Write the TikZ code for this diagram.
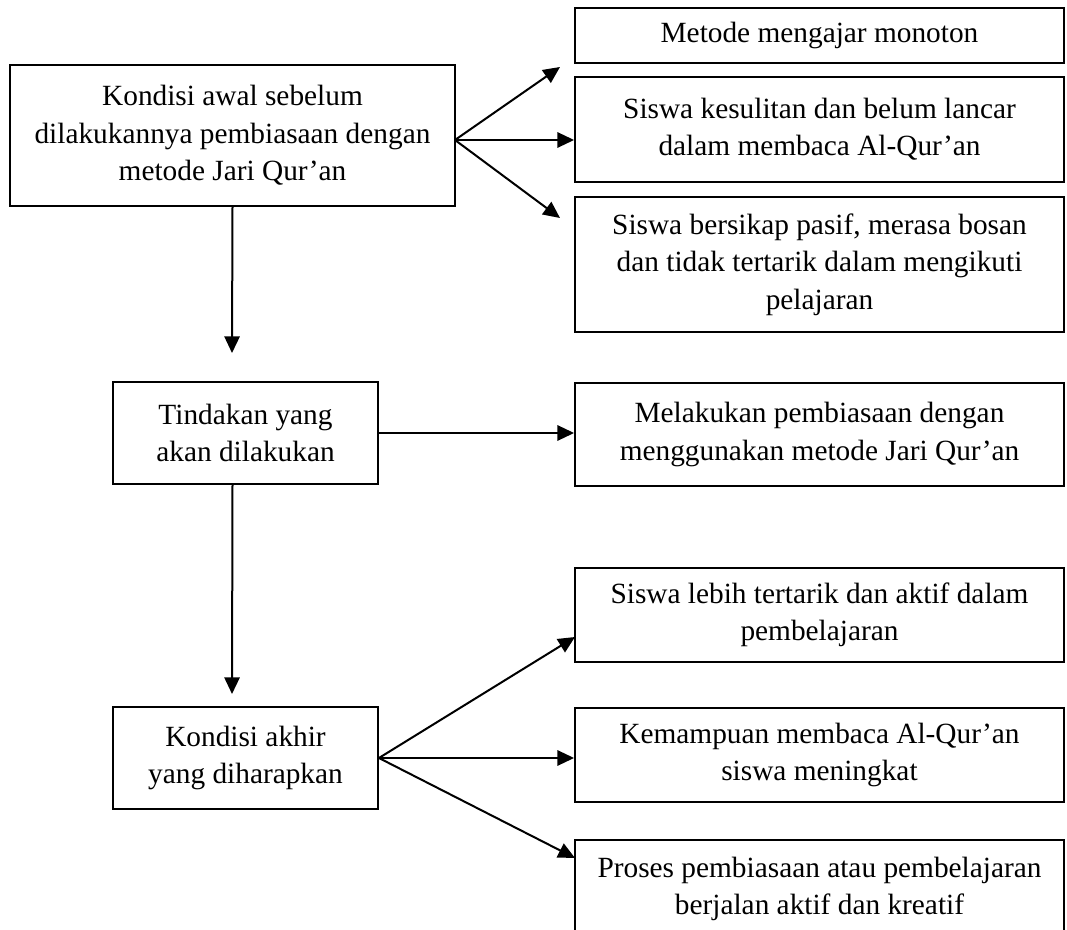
\documentclass[tikz,border=0pt]{standalone}
\usepackage{fontspec}
\setmainfont{Liberation Serif}
\usetikzlibrary{arrows.meta}
\begin{document}
\begin{tikzpicture}[x=0.75pt,y=-0.75pt,
  box/.style={draw=black, line width=1.4pt, rectangle, inner sep=0pt, align=center,
    font=\fontsize{22}{28}\selectfont},
  rbox/.style={box, minimum width=366.75pt},
  arr/.style={draw=black, line width=1.5pt, -{Triangle[length=12.5pt,width=11.5pt]}}]
\useasboundingbox (0,0) rectangle (1067,930);
\clip (0,0) rectangle (1067,930);
\fill[white] (0,0) rectangle (1067,930);

% left column
\node[box, minimum width=333.75pt, minimum height=105.75pt] (k1) at (232.5,135.5)
  {Kondisi awal sebelum\\dilakukannya pembiasaan dengan\\metode Jari Qur’an};
\node[box, minimum width=198.75pt, minimum height=76.5pt] (t2) at (245.5,433)
  {Tindakan yang\\akan dilakukan};
\node[box, minimum width=198.75pt, minimum height=76.5pt] (t3) at (245.5,758)
  {Kondisi akhir\\yang diharapkan};

% right column
\node[rbox, minimum height=41.25pt] (a) at (819.5,35.5) {Metode mengajar monoton};
\node[rbox, minimum height=78.75pt] (b) at (819.5,129.5)
  {Siswa kesulitan dan belum lancar\\dalam membaca Al-Qur’an};
\node[rbox, minimum height=101.25pt] (c) at (819.5,264.5)
  {Siswa bersikap pasif, merasa bosan\\dan tidak tertarik dalam mengikuti\\pelajaran};
\node[rbox, minimum height=77.25pt] (m) at (819.5,434.5)
  {Melakukan pembiasaan dengan\\menggunakan metode Jari Qur’an};
\node[rbox, minimum height=70.5pt] (d) at (819.5,615)
  {Siswa lebih tertarik dan aktif dalam\\pembelajaran};
\node[rbox, minimum height=70.5pt] (e) at (819.5,755)
  {Kemampuan membaca Al-Qur’an\\siswa meningkat};
\node[rbox, minimum height=73.5pt] (f) at (819.5,889)
  {Proses pembiasaan atau pembelajaran\\berjalan aktif dan kreatif};

% connector points
\coordinate (o1) at (455,140);
\coordinate (tipA) at (560,67);
\coordinate (tipC) at (560,218);
\coordinate (v1) at (232,353);
\coordinate (v2) at (232,694);
\coordinate (tipD) at (575,637);
\coordinate (tipF) at (575,858);

% connectors
\draw[arr] (o1) -- (tipA);
\draw[arr] (o1) -- (o1 -| b.west);
\draw[arr] (o1) -- (tipC);
\draw[arr] (k1.south) -- (v1);
\draw[arr] (t2.east) -- (t2.east -| m.west);
\draw[arr] (k1.south |- t2.south) -- (v2);
\draw[arr] (t3.east) -- (tipD);
\draw[arr] (t3.east) -- (t3.east -| e.west);
\draw[arr] (t3.east) -- (tipF);
\end{tikzpicture}
\end{document}
